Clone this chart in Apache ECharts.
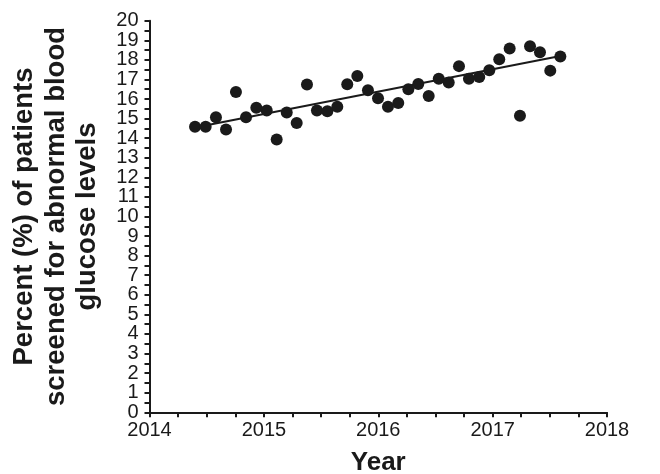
<!DOCTYPE html>
<html>
<head>
<meta charset="utf-8">
<script src="https://cdn.jsdelivr.net/npm/echarts@6/dist/echarts.min.js"></script>
<style>
html,body{margin:0;padding:0;background:#fff;}
#chart{width:660px;height:474px;}
</style>
</head>
<body>
<div id="chart"></div>
<script>
// Decimal year of each monthly observation
var years = [2014.398, 2014.491, 2014.581, 2014.669, 2014.756, 2014.844, 2014.934, 2015.025, 2015.112, 2015.200,
             2015.287, 2015.377, 2015.464, 2015.555, 2015.642, 2015.729, 2015.817, 2015.910, 2015.998, 2016.085,
             2016.175, 2016.263, 2016.350, 2016.441, 2016.529, 2016.616, 2016.706, 2016.793, 2016.883, 2016.971,
             2017.058, 2017.149, 2017.239, 2017.327, 2017.414, 2017.504, 2017.592];
// Percent screened
var percents = [14.58, 14.58, 15.07, 14.44, 16.36, 15.07, 15.56, 15.41, 13.93, 15.31,
                14.78, 16.74, 15.41, 15.38, 15.60, 16.76, 17.18, 16.45, 16.04, 15.60,
                15.80, 16.50, 16.77, 16.16, 17.04, 16.84, 17.68, 17.04, 17.13, 17.47,
                18.03, 18.58, 15.15, 18.70, 18.39, 17.45, 18.17];
// Trend line end points (year, percent)
var trendYears = [2014.398, 2017.592];
var trendValues = [14.55, 18.20];

var yAxisTitle = 'Percent (%) of patients\nscreened for abnormal blood\nglucose levels';
var xAxisTitle = 'Year';

var pts = years.map(function(y, i){ return [y, percents[i]]; });
var trend = trendYears.map(function(y, i){ return [y, trendValues[i]]; });

var FONT = "'Liberation Sans', Arial, sans-serif";
var yLabelStyle = {fontFamily: FONT, fontSize: 20, color: '#1a1a1a', margin: 11, hideOverlap: false};
var chart = echarts.init(document.getElementById('chart'), null, {renderer:'canvas'});
chart.setOption({
  animation: false,
  backgroundColor: '#ffffff',
  grid: {left: 149.5, right: 53, top: 20.7, bottom: 61.7, containLabel: false, outerBoundsMode: 'none'},
  xAxis: {
    type: 'value', min: 2014, max: 2018, interval: 1,
    name: xAxisTitle, nameLocation: 'middle', nameGap: 38,
    nameTextStyle: {fontFamily: FONT, fontWeight: 'bold', fontSize: 26, color: '#1a1a1a'},
    axisLine: {show: true, onZero: false, lineStyle: {color: '#1a1a1a', width: 2}},
    axisTick: {show: true, length: 5, lineStyle: {color: '#1a1a1a', width: 2}},
    minorTick: {show: true, splitNumber: 4, length: 5, lineStyle: {color: '#1a1a1a', width: 2}},
    axisLabel: {fontFamily: FONT, fontSize: 20, color: '#1a1a1a', margin: 8,
                showMinLabel: true, showMaxLabel: true, hideOverlap: false,
                formatter: function(v){ return String(v); }},
    splitLine: {show: false}
  },
  yAxis: [
    {
      type: 'value', min: 0, max: 20, interval: 1, position: 'left',
      name: yAxisTitle, nameLocation: 'middle', nameGap: 46, nameRotate: 90,
      nameTextStyle: {fontFamily: FONT, fontWeight: 'bold', fontSize: 27.5, lineHeight: 31.5, color: '#1a1a1a', align: 'center'},
      axisLine: {show: true, onZero: false, lineStyle: {color: '#1a1a1a', width: 2}},
      axisTick: {show: true, length: 5, lineStyle: {color: '#1a1a1a', width: 2}},
      minorTick: {show: true, splitNumber: 2, length: 5, lineStyle: {color: '#1a1a1a', width: 2}},
      axisLabel: Object.assign({showMinLabel: false, showMaxLabel: false}, yLabelStyle),
      splitLine: {show: false}
    },
    {
      // end labels (0 and 20) of the same scale
      type: 'value', min: 0, max: 20, interval: 20, position: 'left', offset: 0,
      axisLine: {show: false}, axisTick: {show: false}, splitLine: {show: false},
      axisLabel: Object.assign({showMinLabel: true, showMaxLabel: true}, yLabelStyle)
    }
  ],
  series: [
    {
      type: 'line', data: trend, symbol: 'none', silent: true,
      lineStyle: {color: '#1a1a1a', width: 2}, z: 2
    },
    {
      type: 'scatter', data: pts, symbol: 'circle', symbolSize: 12,
      itemStyle: {color: '#1a1a1a', opacity: 1}, z: 3
    }
  ]
});
</script>
</body>
</html>
